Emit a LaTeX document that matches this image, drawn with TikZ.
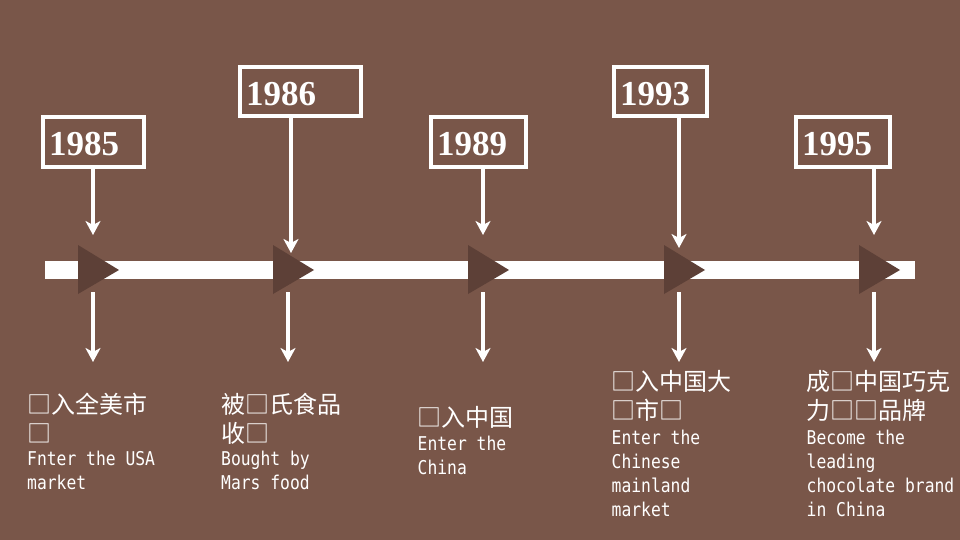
\documentclass[tikz,border=0pt]{standalone}
\usepackage{fontspec}
\setmainfont{Liberation Serif}
\newfontfamily\cjk{Noto Sans CJK SC}
\newfontfamily\eng[FakeStretch=0.86]{DejaVu Sans Mono}
\usetikzlibrary{arrows.meta}
\definecolor{bg}{RGB}{121,86,73}
\definecolor{tri}{RGB}{93,64,55}
\newcommand\cjkf{\cjk\fontsize{24}{24}\selectfont}
\newcommand\engf{\eng\fontsize{19}{19}\selectfont}
\newcommand\descline[2]{\baselineskip=#1\relax\hbox{#2}}
\begin{document}
\begin{tikzpicture}[x=1pt,y=-1pt,
  yearbox/.style={draw=white,line width=4pt,text=white,
    font={\bfseries\fontsize{35}{35}\selectfont},
    inner xsep=6pt,inner ysep=0pt,align=left,
    text height=28pt,text depth=0pt},
  conn/.style={draw=white,line width=4pt,
    -{Stealth[length=14pt,width=15pt,inset=4pt]}},
  desc/.style={text=white,inner sep=0pt,anchor=base west},
  marker/.style={fill=tri}
]
\useasboundingbox (0,0) rectangle (960,540);
\fill[bg] (0,0) rectangle (960,540);

% timeline bar
\fill[white] (45,261) rectangle (915,279);

% markers
\foreach \x in {78,273,468,664,859}
  \fill[marker] (\x,245) -- (\x+41,270) -- (\x,294) -- cycle;

% year boxes
\node[yearbox,minimum width=101pt,text width=89pt,minimum height=50pt] (y85) at (93.5,142) {1985};
\node[yearbox,minimum width=121pt,text width=109pt,minimum height=49pt] (y86) at (300.5,91.5) {1986};
\node[yearbox,minimum width=95pt,text width=83pt,minimum height=50pt] (y89) at (478.5,142) {1989};
\node[yearbox,minimum width=93pt,text width=81pt,minimum height=49pt] (y93) at (660.5,91.5) {1993};
\node[yearbox,minimum width=94pt,text width=82pt,minimum height=50pt] (y95) at (843,142) {1995};

% upper arrow tips
\coordinate (t85) at (93,235);
\coordinate (t86) at (291,253);
\coordinate (t89) at (483,235);
\coordinate (t93) at (679,248);
\coordinate (t95) at (874,235);

\draw[conn] (y85.south -| t85) -- (t85);
\draw[conn] (y86.south -| t86) -- (t86);
\draw[conn] (y89.south -| t89) -- (t89);
\draw[conn] (y93.south -| t93) -- (t93);
\draw[conn] (y95.south -| t95) -- (t95);

% lower arrows
\foreach \x [count=\i] in {93,288,483,679,874}{
  \coordinate (s\i) at (\x,292);
  \coordinate (e\i) at (\x,362);
  \draw[conn] (s\i) -- (e\i);
}

% descriptions
\node[desc] (d1) at (27,413) {\vtop{\lineskiplimit=-100pt
  \descline{0pt}{\cjkf □入全美市}
  \descline{29pt}{\cjkf □}
  \descline{23pt}{\engf Fnter the USA}
  \descline{24pt}{\engf market}}};
\node[desc] (d2) at (221,413) {\vtop{\lineskiplimit=-100pt
  \descline{0pt}{\cjkf 被□氏食品}
  \descline{29pt}{\cjkf 收□}
  \descline{23pt}{\engf Bought by}
  \descline{24pt}{\engf Mars food}}};
\node[desc] (d3) at (417.5,426) {\vtop{\lineskiplimit=-100pt
  \descline{0pt}{\cjkf □入中国}
  \descline{24pt}{\engf Enter the}
  \descline{24pt}{\engf China}}};
\node[desc] (d4) at (611.5,390) {\vtop{\lineskiplimit=-100pt
  \descline{0pt}{\cjkf □入中国大}
  \descline{29pt}{\cjkf □市□}
  \descline{25pt}{\engf Enter the}
  \descline{24pt}{\engf Chinese}
  \descline{24pt}{\engf mainland}
  \descline{24pt}{\engf market}}};
\node[desc] (d5) at (806.5,390) {\vtop{\lineskiplimit=-100pt
  \descline{0pt}{\cjkf 成□中国巧克}
  \descline{29pt}{\cjkf 力□□品牌}
  \descline{25pt}{\engf Become the}
  \descline{24pt}{\engf leading}
  \descline{24pt}{\engf chocolate brand}
  \descline{24pt}{\engf in China}}};
\end{tikzpicture}
\end{document}
